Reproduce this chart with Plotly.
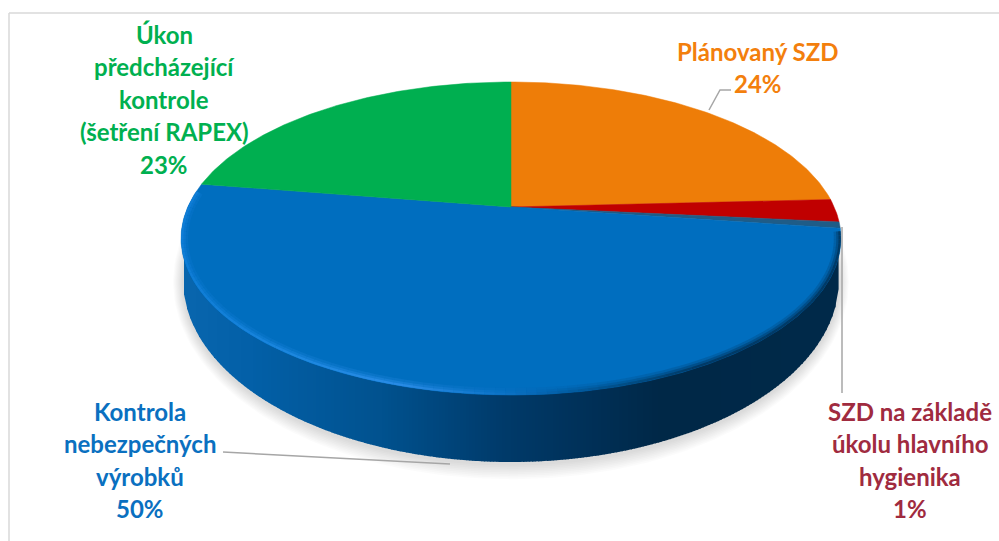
import numpy as np
import plotly.graph_objects as go

# ---- data ----
categories = ["Plánovaný SZD", "SZD na základě úkolu hlavního hygienika", "Přechod", "Kontrola nebezpečných výrobků", "Úkon předcházející kontrole (šetření RAPEX)"]
drawn_share = [24.2, 2.35, 0.65, 50.3, 22.5]
slice_colors = ["#EE7D08", "#C00000", "#1F5C87", "#006EBF", "#00AF50"]

label_lines = [
    ["Plánovaný SZD", "24%"],
    ["SZD na základě", "úkolu hlavního", "hygienika", "1%"],
    ["Kontrola", "nebezpečných", "výrobků", "50%"],
    ["Úkon", "předcházející", "kontrole", "(šetření RAPEX)", "23%"],
]
label_colors = ["#F37F0D", "#A02B3F", "#0A70C0", "#00B050"]
label_centers = [(758, 51), (910, 411), (140, 411), (164, 34)]
line_step = 32.5
font_px = 24

leaders = [
    ([709, 720, 731], [110, 90, 90]),
    ([842, 842], [227, 393]),
    ([223, 450], [452, 464]),
]

# ---- projection of the disc ----
PX, PY = 511, 207
A, B, K = 323.2, 150.2, 0.2013
BOT_CY, BOT_RX, BOT_RY = 280, 328, 182
TOP_CY = 238
TOP_RX, TOP_RY = 330, 157


def rim(t):
    u, v = np.sin(t), np.cos(t)
    return PX + A * u / (1 + K * v), PY - B * v / (1 + K * v)


def hex_rgb(h):
    return np.array([int(h[i:i + 2], 16) for i in (1, 3, 5)], float)


def ramp(x, xs, cols, alpha=1.0):
    arr = np.array([hex_rgb(c) for c in cols])
    r, g, b = (np.interp(x, xs, arr[:, i]) for i in range(3))
    return "rgba(%d,%d,%d,%.2f)" % (r, g, b, alpha)


fig = go.Figure()


def poly(xs, ys, color, line=None, lw=0.0):
    fig.add_trace(go.Scatter(x=xs, y=ys, mode="lines", fill="toself", fillcolor=color,
                             line=dict(color=line or color, width=lw), hoverinfo="skip", showlegend=False))


def path(xs, ys, color, lw):
    fig.add_trace(go.Scatter(x=xs, y=ys, mode="lines", line=dict(color=color, width=lw),
                             hoverinfo="skip", showlegend=False))


# soft shadow
th = np.linspace(0, 2 * np.pi, 240)
for i in range(1, 10):
    poly(PX + (BOT_RX + i * 1.1) * np.cos(th), BOT_CY + 2 + (BOT_RY + i * 1.7) * np.sin(th), "rgba(0,0,0,0.017)")

# side wall, shaded left to right
side_x = [183, 250, 380, 500, 600, 660, 840]
side_c = ["#0966AE", "#0360A8", "#01528F", "#003B6B", "#002F55", "#002847", "#012A4A"]
for x0 in np.arange(PX - BOT_RX + 1, PX + BOT_RX - 1, 3.0):
    x1 = x0 + 3.6
    y0 = BOT_CY + BOT_RY * np.sqrt(max(0, 1 - ((x0 - PX) / BOT_RX) ** 2))
    y1 = BOT_CY + BOT_RY * np.sqrt(max(0, 1 - ((min(x1, PX + BOT_RX) - PX) / BOT_RX) ** 2))
    poly([x0, x1, x1, x0, x0], [TOP_CY, TOP_CY, y1, y0, TOP_CY], ramp(x0, side_x, side_c))

# top surface, one wedge per value
edges = np.cumsum([0] + drawn_share) / 100 * 2 * np.pi
for a0, a1, col in zip(edges[:-1], edges[1:], slice_colors):
    t = np.linspace(a0, a1, max(4, int((a1 - a0) * 80)))
    x, y = rim(t)
    poly(np.r_[PX, x, PX], np.r_[PY, y, PY], col, col, 0.5)

# lit bevel along the front rim: soft wide strokes, then a narrow core
rim_x = [181, 300, 400, 500, 560, 620, 700, 840]
rim_c = ["#0F7DD6", "#1E88E0", "#2A8CE6", "#0E74C8", "#0460A8", "#014F88", "#013A66", "#013A66"]
ts = np.linspace(np.deg2rad(99), np.deg2rad(276), 120)
rx, ry = rim(ts)
for width, inset, alpha in [(7, 3.6, 0.25), (4.5, 2.4, 0.45), (2.2, 1.3, 1.0)]:
    ix = rx - inset * (rx - PX) / TOP_RX
    iy = ry - inset * (ry - TOP_CY) / TOP_RY
    for i in range(len(ts) - 1):
        mid = (rx[i] + rx[i + 1]) / 2
        path(ix[i:i + 2], iy[i:i + 2], ramp(mid, rim_x, rim_c, alpha), width)

# frame
path([9, 9], [541, 13], "#D9D9D9", 1.5)
path([9, 999], [13, 13], "#D9D9D9", 1.5)

# leader lines
for lx, ly in leaders:
    path(lx, ly, "#A6A6A6", 1.5)

# labels
ann = []
for lines, col, (cx, y0) in zip(label_lines, label_colors, label_centers):
    for j, s in enumerate(lines):
        ann.append(dict(x=cx, y=y0 + j * line_step, text="<b>%s</b>" % s, showarrow=False,
                        xanchor="center", yanchor="middle",
                        font=dict(family="Lato", size=font_px, color=col)))

fig.update_layout(
    width=999, height=541, margin=dict(l=0, r=0, t=0, b=0),
    paper_bgcolor="white", plot_bgcolor="white", showlegend=False, annotations=ann,
    xaxis=dict(range=[0, 999], visible=False, fixedrange=True),
    yaxis=dict(range=[541, 0], visible=False, fixedrange=True),
)
fig.write_html("out.html", config={"displayModeBar": False},
               post_script="document.body.style.margin='0';")
